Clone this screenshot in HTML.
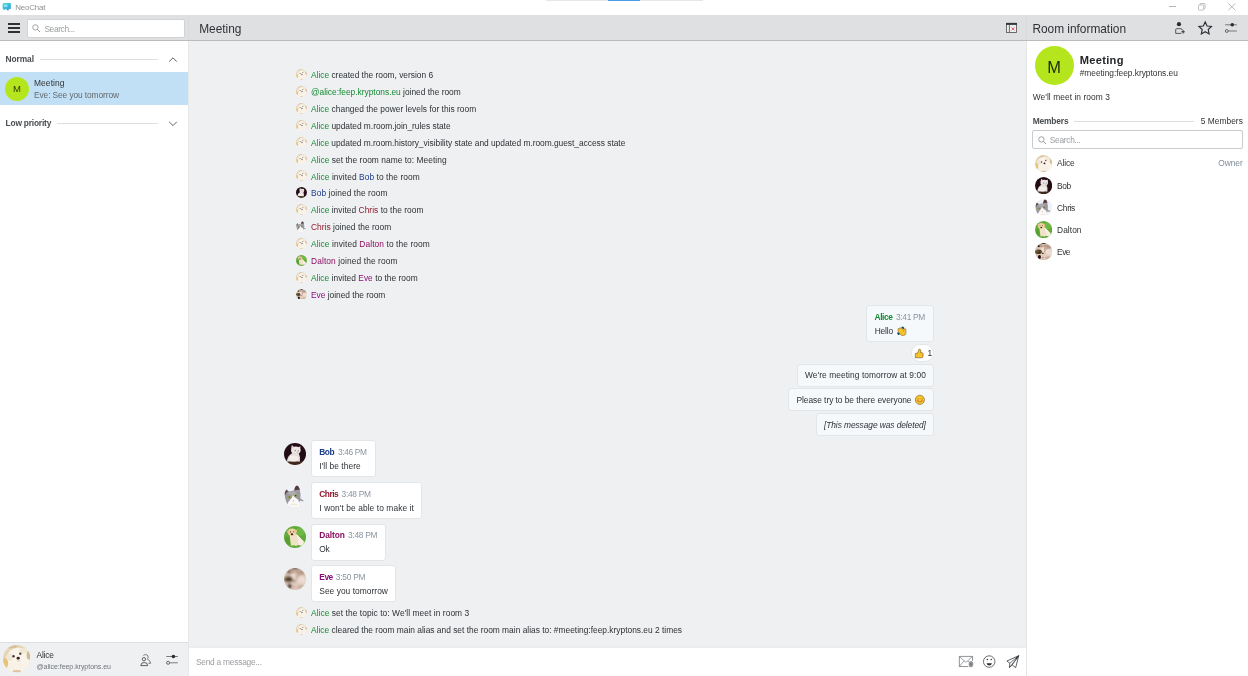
<!DOCTYPE html>
<html lang="en">
<head>
<meta charset="utf-8">
<title>NeoChat</title>
<style>
*{box-sizing:border-box;margin:0;padding:0}
html,body{width:1248px;height:676px;overflow:hidden;background:#fff}
body{font-family:"Liberation Sans","DejaVu Sans",sans-serif;font-size:8.4px;color:#232629;position:relative}
.abs{position:absolute}
.tx{position:absolute;white-space:nowrap}
.bub{position:absolute;border:1px solid #e3e6e9}
</style>
</head>
<body>
<div id="app" style="position:absolute;left:0;top:0;width:1248px;height:676px;will-change:transform;background:#fff">
<svg width="0" height="0" style="position:absolute"><defs>
<clipPath id="cc"><circle cx="11" cy="11" r="11"/></clipPath>
<filter id="bl" x="-10%" y="-10%" width="120%" height="120%"><feGaussianBlur stdDeviation="0.5"/></filter>
<filter id="bl2" x="-10%" y="-10%" width="120%" height="120%"><feGaussianBlur stdDeviation="0.85"/></filter>
<g id="avA" clip-path="url(#cc)"><g filter="url(#bl)"><rect x="-2" y="-2" width="26" height="26" fill="#e6d6b8"/><ellipse cx="11.8" cy="13.2" rx="9.6" ry="11" fill="#f9f3ea"/><ellipse cx="9.5" cy="19" rx="9" ry="5" fill="#f8f1e6"/><ellipse cx="1.8" cy="14.5" rx="2.3" ry="4.2" fill="#e4c476"/><ellipse cx="20.6" cy="8" rx="1.8" ry="3.6" fill="#d2bc92"/><ellipse cx="7" cy="1" rx="4.5" ry="1.6" fill="#d6c298"/><ellipse cx="16.5" cy="4.4" rx="3.4" ry="2.2" fill="#f1e6d4"/><ellipse cx="5.5" cy="9.5" rx="2.4" ry="3.2" fill="#f1e7d8"/><ellipse cx="11" cy="21" rx="3.4" ry="1" fill="#dcc4a6"/><circle cx="8.4" cy="9" r="0.95" fill="#3c3430"/><circle cx="13.8" cy="6.9" r="0.95" fill="#4a4440"/><ellipse cx="12.1" cy="10.6" rx="1.25" ry="1.15" fill="#3a1f1a"/><ellipse cx="12.4" cy="12.6" rx="1.6" ry="0.9" fill="#eadccb"/></g></g>
<g id="avB" clip-path="url(#cc)"><g filter="url(#bl)"><rect x="-2" y="-2" width="26" height="26" fill="#240b12"/><rect x="-2" y="18" width="26" height="6" fill="#3c261a"/><path d="M7.9 2.1 L7.1 6.2 L10.2 4.2Z" fill="#e8dcd9"/><path d="M16.4 3.3 L13.6 4.6 L16.3 7.6Z" fill="#e8dcd9"/><path d="M8 3.2 L7.7 5.6 L9 4.8Z" fill="#e8b3ba"/><ellipse cx="11.8" cy="7.5" rx="4.8" ry="3.9" fill="#ece5e2"/><path d="M8.2 10 Q3.4 13 2.9 18.4 L15.9 18.6 Q16.6 13.6 14.6 10Z" fill="#e6dedb"/><ellipse cx="9.6" cy="15.4" rx="4.6" ry="3" fill="#f2ecea"/><circle cx="11.2" cy="7.6" r="0.7" fill="#55799a"/><circle cx="14.3" cy="7.8" r="0.65" fill="#6486a4"/><ellipse cx="13.3" cy="9.3" rx="0.55" ry="0.75" fill="#e59aa2"/></g></g>
<g id="avC" clip-path="url(#cc)"><g filter="url(#bl)"><rect x="-2" y="-2" width="26" height="26" fill="#eef1f7"/><path d="M0.6 9.4 Q0.8 6 2.2 4.4 L5 6.4 L10.2 5.6 Q10.6 1.4 12.8 0.4 Q15.2 1.2 15.8 5 Q17 9 16.4 13.6 L19.6 15.4 L19.2 16.6 L16.2 15.6 Q15 19 12 21 L4 20.4 Q2 17 1.4 14 Q0.8 12 0.6 9.4Z" fill="#9b999d"/><path d="M0.6 9.2 Q0.8 6 2.2 4.4 L4.6 6.6 Q2 7.4 1.6 9.6Z" fill="#66504f"/><path d="M10.4 5.6 Q10.6 1.4 12.8 0.4 Q15.2 1.2 15.8 5 Q13 4.4 10.4 5.6Z" fill="#563a3a"/><ellipse cx="8" cy="8" rx="4" ry="1.8" fill="#aeacaf"/><path d="M8.8 10 Q10.2 12.6 13.8 14.6 Q16 17 14.4 22 L3.6 22 Q3 17.6 6 15 Q8.4 13 8.8 10Z" fill="#fbfbfb"/><ellipse cx="5.3" cy="12.2" rx="1.5" ry="1" fill="#a3a238"/><ellipse cx="11.7" cy="10.8" rx="1.5" ry="1" fill="#8f9a35"/><circle cx="5.3" cy="12" r="0.55" fill="#20241a"/><circle cx="11.7" cy="10.6" r="0.55" fill="#20241a"/><ellipse cx="9.4" cy="15.9" rx="1" ry="0.7" fill="#f0a9b3"/><ellipse cx="10" cy="19.4" rx="3.4" ry="0.9" fill="#f1e6da"/></g></g>
<g id="avD" clip-path="url(#cc)"><g filter="url(#bl)"><rect x="-2" y="-2" width="26" height="26" fill="#62aa3a"/><ellipse cx="16" cy="6" rx="5" ry="4" fill="#6fb845"/><ellipse cx="3" cy="15" rx="3" ry="4" fill="#57a030"/><path d="M5.8 8.6 L12.4 8 L19.8 15.6 Q20 18.6 17.6 19.4 L14 19 L12 20 L10 19.2 L7.2 19.8 Q5.8 14 5.8 8.6Z" fill="#f0e2c6"/><path d="M12.4 8 L19.8 15.6 Q20 18.6 17.6 19.4 L14.6 19 Q14 13 12.4 8Z" fill="#f6eee0"/><ellipse cx="8.05" cy="6.3" rx="4.2" ry="3.7" fill="#efd3a3"/><ellipse cx="4.2" cy="5.6" rx="1.1" ry="1.7" fill="#e6bf8a"/><ellipse cx="12" cy="5.2" rx="1" ry="1.6" fill="#e6bf8a"/><circle cx="6.5" cy="5.9" r="0.55" fill="#4a3020"/><circle cx="9.7" cy="5.7" r="0.55" fill="#4a3020"/><ellipse cx="8" cy="8.3" rx="1.15" ry="1.05" fill="#33221c"/></g></g>
<g id="avE" clip-path="url(#cc)"><g filter="url(#bl2)"><rect x="-3" y="-3" width="28" height="28" fill="#d9c3b4"/><ellipse cx="16" cy="4.6" rx="5.5" ry="2.8" fill="#b8998a"/><ellipse cx="11.2" cy="0.2" rx="3.4" ry="1.1" fill="#2b1b25"/><ellipse cx="6.4" cy="3" rx="3.4" ry="2.2" fill="#b09a84"/><ellipse cx="10.2" cy="8" rx="3" ry="3.2" fill="#eadfd7"/><ellipse cx="13.5" cy="8.5" rx="2" ry="4" fill="#c8ae9e"/><ellipse cx="17.8" cy="12" rx="4.6" ry="4.2" fill="#ecdcd2"/><ellipse cx="4.8" cy="4.2" rx="1.3" ry="1.2" fill="#2c2119"/><ellipse cx="9" cy="5" rx="1.3" ry="0.9" fill="#e39080"/><ellipse cx="4.4" cy="11.2" rx="4.4" ry="3" fill="#56442a"/><ellipse cx="2.2" cy="10.2" rx="1.2" ry="0.9" fill="#8a7646"/><ellipse cx="6" cy="12.2" rx="1.2" ry="0.8" fill="#3c2e1c"/><ellipse cx="10" cy="13.4" rx="1.3" ry="0.9" fill="#4a382e"/><ellipse cx="12" cy="17.4" rx="7" ry="3.6" fill="#e2cdbf"/><ellipse cx="17" cy="19" rx="4" ry="2" fill="#cbb0a0"/><ellipse cx="5.7" cy="18" rx="2" ry="2.6" fill="#2a141a"/><circle cx="10.2" cy="18.6" r="0.8" fill="#a8584c"/></g></g>
</defs></svg>
<!-- panels -->
<div class="abs" style="left:0;top:15px;width:1248px;height:26px;background:#dfe0e2;border-bottom:1px solid #b9bbbd"></div>
<div class="abs" style="left:189px;top:41px;width:837px;height:606px;background:#eff0f1"></div>
<div class="abs" style="left:189px;top:646px;width:837px;height:2px;background:#ecedee"></div>
<div class="abs" style="left:188px;top:41px;width:1px;height:635px;background:#e6e7e8"></div>
<div class="abs" style="left:1026px;top:41px;width:1px;height:635px;background:#e5e6e7"></div>
<div class="abs" style="left:0;top:642px;width:188px;height:34px;background:#eff0f1;border-top:1px solid #dcdee0"></div>
<div class="abs" style="left:1026px;top:15px;width:1px;height:25px;background:#dadbdd"></div>
<div class="abs" style="left:188px;top:15px;width:1px;height:25px;background:#dadbdd"></div>
<!-- top progress strip -->
<div class="abs" style="left:546px;top:0;width:157px;height:1px;background:#e6e6e6"></div>
<div class="abs" style="left:608px;top:0;width:32px;height:1px;background:#4a9be8"></div>

<div class="bub" style="left:866.0px;top:305.0px;width:68.0px;height:37.0px;background:#f6f9fc;border-radius:3px"></div>
<div class="bub" style="left:911.0px;top:344.0px;width:23.0px;height:18.0px;background:#ffffff;border-radius:9px"></div>
<div class="bub" style="left:796.5px;top:364.0px;width:137.5px;height:22.5px;background:#f6f9fc;border-radius:3px"></div>
<div class="bub" style="left:788.0px;top:388.0px;width:146.0px;height:23.0px;background:#f6f9fc;border-radius:3px"></div>
<div class="bub" style="left:815.5px;top:413.0px;width:118.5px;height:23.0px;background:#f6f9fc;border-radius:3px"></div>
<div class="bub" style="left:311.0px;top:440.3px;width:65.2px;height:37.0px;background:#ffffff;border-radius:3px"></div>
<div class="bub" style="left:311.0px;top:482.2px;width:111.3px;height:37.0px;background:#ffffff;border-radius:3px"></div>
<div class="bub" style="left:311.0px;top:523.6px;width:74.8px;height:37.0px;background:#ffffff;border-radius:3px"></div>
<div class="bub" style="left:311.0px;top:565.4px;width:84.8px;height:37.0px;background:#ffffff;border-radius:3px"></div>

<!-- title bar icon + window controls -->
<svg class="abs" style="left:2px;top:2px" width="10" height="10" viewBox="0 0 10 10"><defs><linearGradient id="ng" x1="0" y1="0" x2="1" y2="1"><stop offset="0" stop-color="#4fe3cf"/><stop offset="0.55" stop-color="#3cb9dc"/><stop offset="1" stop-color="#3a9fe0"/></linearGradient></defs><path d="M4.6 7 L6.2 8.9 L6.6 7Z" fill="#2a7ab4"/><rect x="0.6" y="0.9" width="8.3" height="6.4" rx="1.1" fill="url(#ng)"/><path d="M1.2 7 L2.2 8.3 L3.4 7Z" fill="#43c9d6"/><rect x="2" y="2.4" width="3.6" height="2.6" rx="0.4" fill="#9fe9ec" opacity="0.75"/></svg>
<div class="abs" style="left:1169px;top:6px;width:7px;height:1px;background:#b3b3b3"></div>
<svg class="abs" style="left:1198px;top:3px" width="8" height="8" viewBox="0 0 8 8"><rect x="0.5" y="1.9" width="5.2" height="5.2" rx="0.8" fill="none" stroke="#b0b0b0" stroke-width="0.8"/><path d="M1.9 1.9 V1.3 Q1.9 0.5 2.7 0.5 H6.3 Q7.1 0.5 7.1 1.3 V4.9 Q7.1 5.7 6.3 5.7 H5.7" fill="none" stroke="#b0b0b0" stroke-width="0.8"/></svg>
<svg class="abs" style="left:1228px;top:3px" width="8" height="8" viewBox="0 0 8 8"><path d="M0.3 0.3 L7.3 7.3 M7.3 0.3 L0.3 7.3" stroke="#a8a8a8" stroke-width="0.8"/></svg>
<!-- header: hamburger -->
<div class="abs" style="left:8px;top:23px;width:12px;height:2px;background:#2e3134"></div>
<div class="abs" style="left:8px;top:27px;width:12px;height:2px;background:#2e3134"></div>
<div class="abs" style="left:8px;top:31px;width:12px;height:2px;background:#2e3134"></div>
<!-- header: search box -->
<div class="abs" style="left:27px;top:19px;width:158px;height:18.5px;background:#fff;border:1px solid #d1d3d5;border-radius:2px"></div>
<svg class="abs" style="left:32px;top:24px" width="9" height="9" viewBox="0 0 9 9"><circle cx="3.4" cy="3.4" r="2.7" fill="none" stroke="#8a8d90" stroke-width="0.8"/><path d="M5.4 5.4 L8 8" stroke="#8a8d90" stroke-width="0.9"/></svg>
<!-- header: sidebar toggle icon -->
<svg class="abs" style="left:1006px;top:22px" width="12" height="12" viewBox="0 0 12 12"><rect x="0.55" y="1.4" width="10" height="9.1" fill="#eceded" stroke="#55585b" stroke-width="0.85"/><rect x="0.1" y="0.9" width="10.9" height="2" fill="#33373a"/><path d="M3.4 2.9 V10.5" stroke="#55585b" stroke-width="0.85"/><path d="M5.4 5.3 L8.6 8.5 M8.6 5.3 L5.4 8.5" stroke="#e8606e" stroke-width="0.7"/><rect x="6.2" y="6.1" width="1.6" height="1.6" fill="#e0475a"/></svg>
<!-- header: user add -->
<svg class="abs" style="left:1174px;top:21px" width="12" height="14" viewBox="0 0 12 14"><circle cx="4.95" cy="3.2" r="2.1" fill="#2a2d30"/><path d="M7.2 12.4 H1.7 V8.6 Q1.7 7.7 2.6 7.7 H6.8 Q8.2 7.7 8.2 9" fill="none" stroke="#4c4f52" stroke-width="0.95"/><path d="M9.1 9.1 V12.5 M7.4 10.8 H10.8" stroke="#2e3134" stroke-width="1"/></svg>
<!-- header: star -->
<svg class="abs" style="left:1197px;top:20px" width="17" height="16" viewBox="0 0 17 16"><path d="M8.20 1.95 L10.08 5.96 L14.48 6.51 L11.24 9.54 L12.08 13.89 L8.20 11.75 L4.32 13.89 L5.16 9.54 L1.92 6.51 L6.32 5.96Z" fill="none" stroke="#2a2d30" stroke-width="1.15" stroke-linejoin="miter"/></svg>
<!-- header: sliders -->
<svg class="abs" style="left:1224px;top:22px" width="14" height="12" viewBox="0 0 14 12"><path d="M1.1 2.8 H12.9" stroke="#6a6d70" stroke-width="0.9"/><circle cx="8.25" cy="2.8" r="1.8" fill="#2a2d30"/><path d="M4.3 9 H12.9" stroke="#6a6d70" stroke-width="0.9"/><circle cx="2.8" cy="9" r="1.45" fill="#dfe0e2" stroke="#3a3d40" stroke-width="0.75"/></svg>
<!-- sidebar -->
<div class="abs" style="left:40px;top:59px;width:118px;height:1px;background:#dcdee0"></div>
<svg class="abs" style="left:168px;top:56px" width="10" height="7" viewBox="0 0 10 7"><path d="M1.2 5.6 L5 1.8 L8.8 5.6" fill="none" stroke="#4a4d50" stroke-width="0.9"/></svg>
<div class="abs" style="left:0;top:72px;width:188px;height:33px;background:#c2e0f5"></div>
<div class="tx" style="left:5px;top:76.5px;width:24px;height:24px;border-radius:50%;background:#b5e61d;text-align:center;font-size:9.5px;line-height:24px;color:#2b3a06">M</div>
<div class="abs" style="left:57px;top:123px;width:101px;height:1px;background:#dcdee0"></div>
<svg class="abs" style="left:168px;top:120px" width="10" height="7" viewBox="0 0 10 7"><path d="M1.2 1.8 L5 5.6 L8.8 1.8" fill="none" stroke="#4a4d50" stroke-width="0.9"/></svg>
<!-- right panel -->
<div class="tx" style="left:1034.5px;top:46px;width:39px;height:39px;border-radius:50%;background:#b5e61d;text-align:center;font-size:16.4px;line-height:42.5px;color:#1c2b05">M</div>
<div class="abs" style="left:1074px;top:121px;width:120px;height:1px;background:#dcdee0"></div>
<div class="abs" style="left:1032px;top:130px;width:211px;height:18.5px;border:1px solid #c9ccce;border-radius:2px;background:#fff"></div>
<svg class="abs" style="left:1038px;top:135.5px" width="9" height="9" viewBox="0 0 9 9"><circle cx="3.4" cy="3.4" r="2.7" fill="none" stroke="#8a8d90" stroke-width="0.8"/><path d="M5.4 5.4 L8 8" stroke="#8a8d90" stroke-width="0.9"/></svg>
<!-- bottom-left icons -->
<svg class="abs" style="left:140px;top:654px" width="12" height="13" viewBox="0 0 12 13"><path d="M3.3 1.5 Q4.6 0.3 6.4 0.7 Q8.6 1.4 8.2 3.4 Q8 4.4 7.2 4.9 Q10.2 6 10.7 9.3 H8.4" fill="none" stroke="#55585b" stroke-width="0.75"/><circle cx="3.9" cy="5.2" r="1.65" fill="#eff0f1" stroke="#3a3d40" stroke-width="0.8"/><path d="M0.8 11.6 Q0.9 8.5 4.2 8.5 Q7.6 8.5 7.7 11.6Z" fill="#eff0f1" stroke="#3a3d40" stroke-width="0.8" stroke-linejoin="round"/></svg>
<svg class="abs" style="left:165px;top:654px" width="14" height="12" viewBox="0 0 14 12"><path d="M1.3 2.5 H12.8" stroke="#6a6d70" stroke-width="0.9"/><circle cx="8.4" cy="2.5" r="1.8" fill="#2a2d30"/><path d="M4.6 8.8 H12.8" stroke="#6a6d70" stroke-width="0.9"/><circle cx="3.1" cy="8.8" r="1.5" fill="#eff0f1" stroke="#3a3d40" stroke-width="0.75"/></svg>
<!-- input bar icons -->
<svg class="abs" style="left:958px;top:655px" width="16" height="13" viewBox="0 0 16 13"><path d="M10.4 11.55 H1.35 V1.4 H14.55 V5.8" fill="none" stroke="#6c6f72" stroke-width="0.75"/><path d="M1.35 1.4 L7.95 7.4 L14.55 1.4 M1.35 11.55 L6.1 5.8 M9.8 5.8 L11 7.2" fill="none" stroke="#6c6f72" stroke-width="0.65"/><rect x="11.1" y="6.4" width="3.7" height="5.5" rx="1.8" fill="#9a9da0" stroke="#6c6f72" stroke-width="0.5"/><path d="M12.95 8 V10.6" stroke="#55585b" stroke-width="0.9"/></svg>
<svg class="abs" style="left:982px;top:654px" width="15" height="15" viewBox="0 0 15 15"><circle cx="7.2" cy="7.55" r="5.75" fill="none" stroke="#45484b" stroke-width="0.8"/><circle cx="5.4" cy="5.4" r="0.75" fill="#2e3134"/><circle cx="9.2" cy="5.4" r="0.75" fill="#2e3134"/><path d="M4.5 9.2 H10 Q9.4 11.5 7.25 11.5 Q5.1 11.5 4.5 9.2Z" fill="#2a2d30"/></svg>
<svg class="abs" style="left:1006px;top:655px" width="14" height="14" viewBox="0 0 14 14"><path d="M12.7 0.7 L0.9 6 L3.8 8.2 L3.4 12.6 L6.2 10 L9.7 12.6 Z" fill="none" stroke="#3a3d40" stroke-width="0.8" stroke-linejoin="round"/><path d="M12.7 0.7 L3.8 8.2 M12.7 0.7 L6.2 10 M12.7 0.7 L3.4 12.6" fill="none" stroke="#3a3d40" stroke-width="0.7"/><path d="M12.7 0.7 L10.6 4.4 L9.4 3.2Z" fill="#2a2d30"/></svg>
<!-- emoji -->
<svg class="abs" style="left:896px;top:326px" width="12" height="11" viewBox="0 0 12 11"><ellipse cx="6.9" cy="1.7" rx="1.5" ry="1" transform="rotate(38 6.9 1.7)" fill="#0e4d5e"/><ellipse cx="2.5" cy="7.6" rx="1.5" ry="1.1" transform="rotate(42 2.5 7.6)" fill="#0e4d5e"/><path d="M2.3 2.6 Q3.8 1.7 5.6 1.9 L7.4 4.2 L8.6 2.6 Q9.6 2.4 10 3.6 L9.9 7.4 Q9.4 9.4 7.4 9.6 Q5.8 9.8 4.8 8.8 L2.2 5.4 Q1.6 3.6 2.3 2.6Z" fill="#f6c22f" stroke="#5a4312" stroke-width="0.45" stroke-linejoin="round"/><path d="M7.4 4.2 L7.4 6.2" stroke="#c9971f" stroke-width="0.4"/></svg>
<svg class="abs" style="left:914px;top:348px" width="11" height="11" viewBox="0 0 11 11"><path d="M1.25 5.5 L3.5 5 Q4.5 4.2 4.45 2 Q4.6 1.2 5.6 1.25 Q6.8 1.4 6.8 2.6 L6.6 4.6 L8 4.7 Q9.2 5 9.1 6.2 L9 8.4 Q8.8 9.7 7.6 9.8 H1.25 Z" fill="#f7c32e" stroke="#4a3710" stroke-width="0.5" stroke-linejoin="round"/><path d="M3.5 5.2 V9.6" stroke="#d9a520" stroke-width="0.4"/></svg>
<svg class="abs" style="left:914px;top:394px" width="12" height="12" viewBox="0 0 12 12"><circle cx="5.9" cy="5.85" r="4.6" fill="#f9c42f" stroke="#6e5418" stroke-width="0.55"/><ellipse cx="3.5" cy="6.6" rx="1.2" ry="0.8" fill="#f28a4c"/><ellipse cx="8.3" cy="6.6" rx="1.2" ry="0.8" fill="#f28a4c"/><path d="M3.2 4.9 Q4.1 3.9 5 4.9 M6.8 4.9 Q7.7 3.9 8.6 4.9" fill="none" stroke="#9a7416" stroke-width="0.5" stroke-linecap="round"/><path d="M3.9 7.3 Q5.9 9.2 7.9 7.3" fill="none" stroke="#7a5a12" stroke-width="0.55" stroke-linecap="round"/></svg>

<svg class="abs" style="left:296.1px;top:68.9px" width="10.9" height="10.9" viewBox="0 0 22 22"><use href="#avA"/></svg>
<svg class="abs" style="left:296.1px;top:85.8px" width="10.9" height="10.9" viewBox="0 0 22 22"><use href="#avA"/></svg>
<svg class="abs" style="left:296.1px;top:102.7px" width="10.9" height="10.9" viewBox="0 0 22 22"><use href="#avA"/></svg>
<svg class="abs" style="left:296.1px;top:119.6px" width="10.9" height="10.9" viewBox="0 0 22 22"><use href="#avA"/></svg>
<svg class="abs" style="left:296.1px;top:136.6px" width="10.9" height="10.9" viewBox="0 0 22 22"><use href="#avA"/></svg>
<svg class="abs" style="left:296.1px;top:153.5px" width="10.9" height="10.9" viewBox="0 0 22 22"><use href="#avA"/></svg>
<svg class="abs" style="left:296.1px;top:170.4px" width="10.9" height="10.9" viewBox="0 0 22 22"><use href="#avA"/></svg>
<svg class="abs" style="left:296.1px;top:187.2px" width="10.9" height="10.9" viewBox="0 0 22 22"><use href="#avB"/></svg>
<svg class="abs" style="left:296.1px;top:204.2px" width="10.9" height="10.9" viewBox="0 0 22 22"><use href="#avA"/></svg>
<svg class="abs" style="left:296.1px;top:221.1px" width="10.9" height="10.9" viewBox="0 0 22 22"><use href="#avC"/></svg>
<svg class="abs" style="left:296.1px;top:238.0px" width="10.9" height="10.9" viewBox="0 0 22 22"><use href="#avA"/></svg>
<svg class="abs" style="left:296.1px;top:254.9px" width="10.9" height="10.9" viewBox="0 0 22 22"><use href="#avD"/></svg>
<svg class="abs" style="left:296.1px;top:271.8px" width="10.9" height="10.9" viewBox="0 0 22 22"><use href="#avA"/></svg>
<svg class="abs" style="left:296.1px;top:288.6px" width="10.9" height="10.9" viewBox="0 0 22 22"><use href="#avE"/></svg>
<svg class="abs" style="left:296.1px;top:607.1px" width="10.9" height="10.9" viewBox="0 0 22 22"><use href="#avA"/></svg>
<svg class="abs" style="left:296.1px;top:624.0px" width="10.9" height="10.9" viewBox="0 0 22 22"><use href="#avA"/></svg>
<svg class="abs" style="left:284.1px;top:443.1px" width="22" height="22" viewBox="0 0 22 22"><use href="#avB"/></svg>
<svg class="abs" style="left:284.1px;top:485.0px" width="22" height="22" viewBox="0 0 22 22"><use href="#avC"/></svg>
<svg class="abs" style="left:284.1px;top:526.4px" width="22" height="22" viewBox="0 0 22 22"><use href="#avD"/></svg>
<svg class="abs" style="left:284.1px;top:568.2px" width="22" height="22" viewBox="0 0 22 22"><use href="#avE"/></svg>
<svg class="abs" style="left:1034.7px;top:154.8px" width="17.2" height="17.2" viewBox="0 0 22 22"><use href="#avA"/></svg>
<svg class="abs" style="left:1034.7px;top:176.9px" width="17.2" height="17.2" viewBox="0 0 22 22"><use href="#avB"/></svg>
<svg class="abs" style="left:1034.7px;top:199.0px" width="17.2" height="17.2" viewBox="0 0 22 22"><use href="#avC"/></svg>
<svg class="abs" style="left:1034.7px;top:221.1px" width="17.2" height="17.2" viewBox="0 0 22 22"><use href="#avD"/></svg>
<svg class="abs" style="left:1034.7px;top:243.1px" width="17.2" height="17.2" viewBox="0 0 22 22"><use href="#avE"/></svg>
<svg class="abs" style="left:2.6px;top:645.3px" width="27.6" height="27.6" viewBox="0 0 22 22"><use href="#avA"/></svg>
<div id="t0" class="tx" style="left:15.2px;top:3px;font-size:7.9px;line-height:10px;color:#8f8f8f;letter-spacing:-0.159px">NeoChat</div>
<div id="t1" class="tx" style="left:44.4px;top:24px;font-size:8.4px;line-height:11px;color:#9a9da0;letter-spacing:-0.366px">Search...</div>
<div id="t2" class="tx" style="left:199.2px;top:22px;font-size:11.9px;line-height:15px;color:#2f3235;letter-spacing:-0.019px">Meeting</div>
<div id="t3" class="tx" style="left:1032.4px;top:22px;font-size:11.9px;line-height:15px;color:#2f3235;letter-spacing:-0.016px">Room information</div>
<div id="t4" class="tx" style="left:5.5px;top:54px;font-size:8.4px;line-height:11px;color:#4a4d50;font-weight:bold;letter-spacing:-0.072px">Normal</div>
<div id="t5" class="tx" style="left:34.0px;top:78px;font-size:8.4px;line-height:11px;color:#2f3235;letter-spacing:0.117px">Meeting</div>
<div id="t6" class="tx" style="left:34.0px;top:90px;font-size:8.4px;line-height:11px;color:#64696e;letter-spacing:-0.102px">Eve: See you tomorrow</div>
<div id="t7" class="tx" style="left:5.6px;top:118px;font-size:8.4px;line-height:11px;color:#4a4d50;font-weight:bold;letter-spacing:-0.203px">Low priority</div>
<div id="t8" class="tx" style="left:311.0px;top:70px;font-size:8.4px;line-height:11px;color:#2d3135;letter-spacing:-0.011px"><span style="color:#148a34">Alice</span> created the room, version 6</div>
<div id="t9" class="tx" style="left:311.0px;top:87px;font-size:8.4px;line-height:11px;color:#2d3135;letter-spacing:-0.009px"><span style="color:#148a34">@alice:feep.kryptons.eu</span> joined the room</div>
<div id="t10" class="tx" style="left:311.0px;top:104px;font-size:8.4px;line-height:11px;color:#2d3135;letter-spacing:0.020px"><span style="color:#148a34">Alice</span> changed the power levels for this room</div>
<div id="t11" class="tx" style="left:311.0px;top:121px;font-size:8.4px;line-height:11px;color:#2d3135;letter-spacing:-0.015px"><span style="color:#148a34">Alice</span> updated m.room.join_rules state</div>
<div id="t12" class="tx" style="left:311.0px;top:138px;font-size:8.4px;line-height:11px;color:#2d3135;letter-spacing:-0.022px"><span style="color:#148a34">Alice</span> updated m.room.history_visibility state and updated m.room.guest_access state</div>
<div id="t13" class="tx" style="left:311.0px;top:155px;font-size:8.4px;line-height:11px;color:#2d3135;letter-spacing:0.045px"><span style="color:#148a34">Alice</span> set the room name to: Meeting</div>
<div id="t14" class="tx" style="left:311.0px;top:172px;font-size:8.4px;line-height:11px;color:#2d3135;letter-spacing:0.074px"><span style="color:#148a34">Alice</span> invited <span style="color:#1c3c8c">Bob</span> to the room</div>
<div id="t15" class="tx" style="left:311.0px;top:188px;font-size:8.4px;line-height:11px;color:#2d3135;letter-spacing:0.080px"><span style="color:#1c3c8c">Bob</span> joined the room</div>
<div id="t16" class="tx" style="left:311.0px;top:205px;font-size:8.4px;line-height:11px;color:#2d3135;letter-spacing:0.037px"><span style="color:#148a34">Alice</span> invited <span style="color:#8f1a2e">Chris</span> to the room</div>
<div id="t17" class="tx" style="left:311.0px;top:222px;font-size:8.4px;line-height:11px;color:#2d3135;letter-spacing:0.025px"><span style="color:#8f1a2e">Chris</span> joined the room</div>
<div id="t18" class="tx" style="left:311.0px;top:239px;font-size:8.4px;line-height:11px;color:#2d3135;letter-spacing:0.092px"><span style="color:#148a34">Alice</span> invited <span style="color:#8c0f63">Dalton</span> to the room</div>
<div id="t19" class="tx" style="left:311.0px;top:256px;font-size:8.4px;line-height:11px;color:#2d3135;letter-spacing:0.106px"><span style="color:#8c0f63">Dalton</span> joined the room</div>
<div id="t20" class="tx" style="left:311.0px;top:273px;font-size:8.4px;line-height:11px;color:#2d3135;letter-spacing:0.019px"><span style="color:#148a34">Alice</span> invited <span style="color:#8a0f7c">Eve</span> to the room</div>
<div id="t21" class="tx" style="left:311.0px;top:290px;font-size:8.4px;line-height:11px;color:#2d3135;letter-spacing:-0.011px"><span style="color:#8a0f7c">Eve</span> joined the room</div>
<div id="t22" class="tx" style="left:311.0px;top:608px;font-size:8.4px;line-height:11px;color:#2d3135;letter-spacing:0.062px"><span style="color:#148a34">Alice</span> set the topic to: We&#39;ll meet in room 3</div>
<div id="t23" class="tx" style="left:311.0px;top:625px;font-size:8.4px;line-height:11px;color:#2d3135;letter-spacing:0.005px"><span style="color:#148a34">Alice</span> cleared the room main alias and set the room main alias to: #meeting:feep.kryptons.eu 2 times</div>
<div id="t24" class="tx" style="left:874.5px;top:312px;font-size:8.4px;line-height:11px;color:#148a34;font-weight:bold;letter-spacing:-0.408px">Alice</div>
<div id="t25" class="tx" style="left:896.0px;top:312px;font-size:8.4px;line-height:11px;color:#8a94a0;letter-spacing:-0.317px">3:41 PM</div>
<div id="t26" class="tx" style="left:874.7px;top:326px;font-size:8.4px;line-height:11px;color:#2d3135;letter-spacing:-0.173px">Hello</div>
<div id="t27" class="tx" style="left:927.5px;top:348px;font-size:8.4px;line-height:11px;color:#2d3135">1</div>
<div id="t28" class="tx" style="left:804.9px;top:370px;font-size:8.4px;line-height:11px;color:#2d3135;letter-spacing:0.078px">We&#39;re meeting tomorrow at 9:00</div>
<div id="t29" class="tx" style="left:796.5px;top:395px;font-size:8.4px;line-height:11px;color:#2d3135;letter-spacing:-0.046px">Please try to be there everyone</div>
<div id="t30" class="tx" style="left:824.0px;top:420px;font-size:8.4px;line-height:11px;color:#2d3135;font-style:italic;letter-spacing:-0.076px">[This message was deleted]</div>
<div id="t31" class="tx" style="left:319.3px;top:447px;font-size:8.4px;line-height:11px;color:#1c3c8c;font-weight:bold;letter-spacing:-0.491px">Bob</div>
<div id="t32" class="tx" style="left:337.9px;top:447px;font-size:8.4px;line-height:11px;color:#8a94a0;letter-spacing:-0.367px">3:46 PM</div>
<div id="t33" class="tx" style="left:319.3px;top:461px;font-size:8.4px;line-height:11px;color:#2d3135;letter-spacing:0.057px">I&#39;ll be there</div>
<div id="t34" class="tx" style="left:319.3px;top:489px;font-size:8.4px;line-height:11px;color:#8f1a2e;font-weight:bold;letter-spacing:-0.500px">Chris</div>
<div id="t35" class="tx" style="left:341.6px;top:489px;font-size:8.4px;line-height:11px;color:#8a94a0;letter-spacing:-0.301px">3:48 PM</div>
<div id="t36" class="tx" style="left:319.3px;top:503px;font-size:8.4px;line-height:11px;color:#2d3135;letter-spacing:0.088px">I won&#39;t be able to make it</div>
<div id="t37" class="tx" style="left:319.3px;top:530px;font-size:8.4px;line-height:11px;color:#8c0f63;font-weight:bold;letter-spacing:-0.093px">Dalton</div>
<div id="t38" class="tx" style="left:348.0px;top:530px;font-size:8.4px;line-height:11px;color:#8a94a0;letter-spacing:-0.284px">3:48 PM</div>
<div id="t39" class="tx" style="left:319.3px;top:544px;font-size:8.4px;line-height:11px;color:#2d3135;letter-spacing:-0.403px">Ok</div>
<div id="t40" class="tx" style="left:319.3px;top:572px;font-size:8.4px;line-height:11px;color:#8a0f7c;font-weight:bold;letter-spacing:-0.500px">Eve</div>
<div id="t41" class="tx" style="left:335.8px;top:572px;font-size:8.4px;line-height:11px;color:#8a94a0;letter-spacing:-0.251px">3:50 PM</div>
<div id="t42" class="tx" style="left:319.3px;top:586px;font-size:8.4px;line-height:11px;color:#2d3135;letter-spacing:0.042px">See you tomorrow</div>
<div id="t43" class="tx" style="left:1079.7px;top:53px;font-size:11.1px;line-height:14px;color:#232629;font-weight:bold;letter-spacing:0.313px">Meeting</div>
<div id="t44" class="tx" style="left:1079.7px;top:68px;font-size:8.4px;line-height:11px;color:#2f3235;letter-spacing:-0.025px">#meeting:feep.kryptons.eu</div>
<div id="t45" class="tx" style="left:1032.7px;top:92px;font-size:8.4px;line-height:11px;color:#2f3235;letter-spacing:0.067px">We&#39;ll meet in room 3</div>
<div id="t46" class="tx" style="left:1032.7px;top:116px;font-size:8.4px;line-height:11px;color:#4a4d50;font-weight:bold;letter-spacing:-0.147px">Members</div>
<div id="t47" class="tx" style="left:1200.7px;top:116px;font-size:8.4px;line-height:11px;color:#2f3235;letter-spacing:0.039px">5 Members</div>
<div id="t48" class="tx" style="left:1049.8px;top:135px;font-size:8.4px;line-height:11px;color:#9a9da0;letter-spacing:-0.304px">Search...</div>
<div id="t49" class="tx" style="left:1057.1px;top:158px;font-size:8.4px;line-height:11px;color:#2f3235;letter-spacing:-0.139px">Alice</div>
<div id="t50" class="tx" style="left:1057.1px;top:181px;font-size:8.4px;line-height:11px;color:#2f3235;letter-spacing:-0.453px">Bob</div>
<div id="t51" class="tx" style="left:1057.1px;top:203px;font-size:8.4px;line-height:11px;color:#2f3235;letter-spacing:-0.337px">Chris</div>
<div id="t52" class="tx" style="left:1057.1px;top:225px;font-size:8.4px;line-height:11px;color:#2f3235;letter-spacing:0.036px">Dalton</div>
<div id="t53" class="tx" style="left:1057.1px;top:247px;font-size:8.4px;line-height:11px;color:#2f3235;letter-spacing:-0.500px">Eve</div>
<div id="t54" class="tx" style="left:1218.2px;top:158px;font-size:8.4px;line-height:11px;color:#7f8c98;letter-spacing:-0.018px">Owner</div>
<div id="t55" class="tx" style="left:36.5px;top:650px;font-size:8.4px;line-height:11px;color:#2f3235;letter-spacing:-0.164px">Alice</div>
<div id="t56" class="tx" style="left:36.5px;top:662px;font-size:7.0px;line-height:9px;color:#6f7479;letter-spacing:-0.032px">@alice:feep.kryptons.eu</div>
<div id="t57" class="tx" style="left:195.9px;top:657px;font-size:8.4px;line-height:11px;color:#9a9da0;letter-spacing:-0.234px">Send a message...</div>
</div>
</body>
</html>
